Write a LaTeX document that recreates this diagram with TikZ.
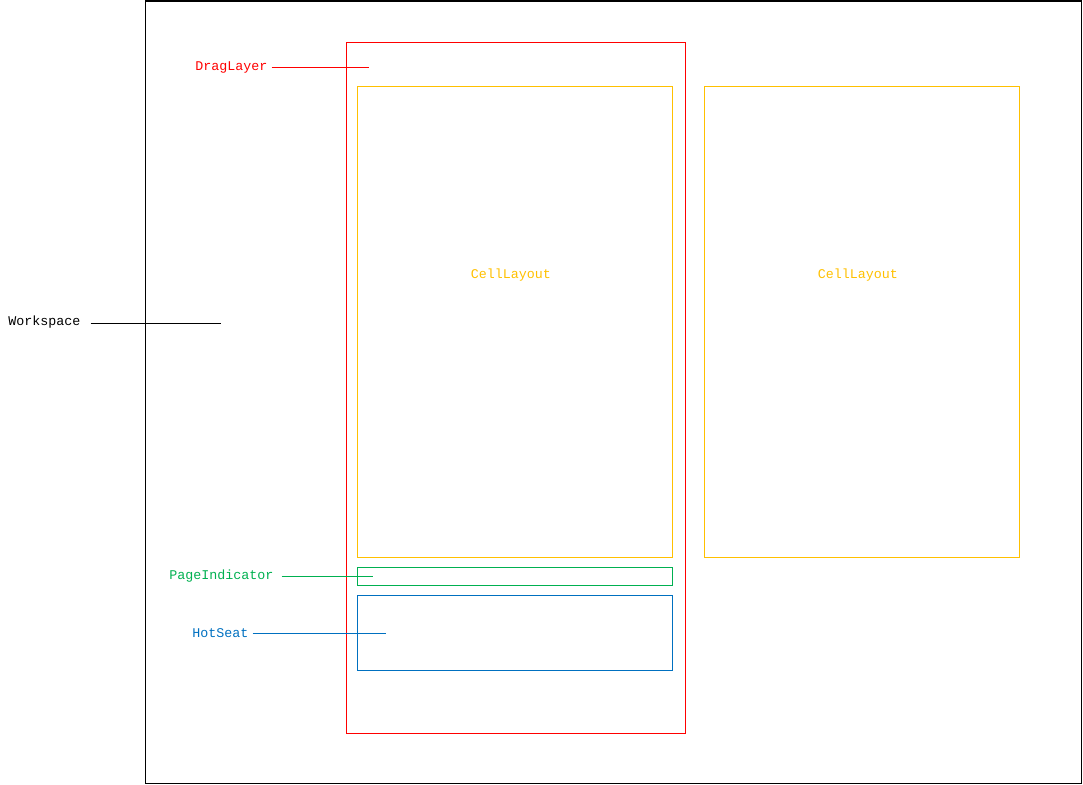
\documentclass[tikz,border=0pt]{standalone}
\usepackage{fontspec}
\setmonofont{Liberation Mono}
\definecolor{cred}{HTML}{FF0000}
\definecolor{cyel}{HTML}{FFC000}
\definecolor{cgrn}{HTML}{00B050}
\definecolor{cblu}{HTML}{0070C0}
\tikzset{
  box/.style={draw, line width=0.75pt, inner sep=0pt},
  lbl/.style={font=\ttfamily\fontsize{10pt}{12pt}\selectfont, inner sep=0pt},
  lead/.style={line width=0.75pt},
}
\begin{document}
\begin{tikzpicture}[x=0.75pt,y=-0.75pt]
\useasboundingbox (0,0) rectangle (1083,785);
% boxes
\node[box, black, minimum width=936*0.75pt, minimum height=782*0.75pt] (ws) at (613,392) {};
\node[box, cred, minimum width=339*0.75pt, minimum height=691*0.75pt] (drag) at (515.5,387.5) {};
\node[box, cyel, minimum width=315*0.75pt, minimum height=471*0.75pt] (cell1) at (514.5,321.5) {};
\node[box, cyel, minimum width=315*0.75pt, minimum height=471*0.75pt] (cell2) at (861.5,321.5) {};
\node[box, cgrn, minimum width=315*0.75pt, minimum height=18*0.75pt] (pi) at (514.5,576) {};
\node[box, cblu, minimum width=315*0.75pt, minimum height=75*0.75pt] (hs) at (514.5,632.5) {};
% texts inside
\node[lbl, text=cyel] (t1) at (511,275) {CellLayout};
\node[lbl, text=cyel] (t2) at (858,275) {CellLayout};
% labels
\node[lbl, text=black, anchor=west] (lws) at (8,322) {Workspace};
\node[lbl, text=cred, anchor=west] (ldrag) at (195,67) {DragLayer};
\node[lbl, text=cgrn, anchor=west] (lpi) at (169,576) {PageIndicator};
\node[lbl, text=cblu, anchor=west] (lhs) at (192,633) {HotSeat};
% leader end points
\coordinate (ews) at (221,323);
\coordinate (edrag) at (369,67);
\coordinate (epi) at (373,576);
\coordinate (ehs) at (386,633);
\draw[lead, black] ([xshift=7.5pt]lws.east |- ews) -- (ews);
\draw[lead, cred] ([xshift=3pt]ldrag.east |- edrag) -- (edrag);
\draw[lead, cgrn] ([xshift=6pt]lpi.east |- epi) -- (epi);
\draw[lead, cblu] ([xshift=3pt]lhs.east |- ehs) -- (ehs);
\end{tikzpicture}
\end{document}
